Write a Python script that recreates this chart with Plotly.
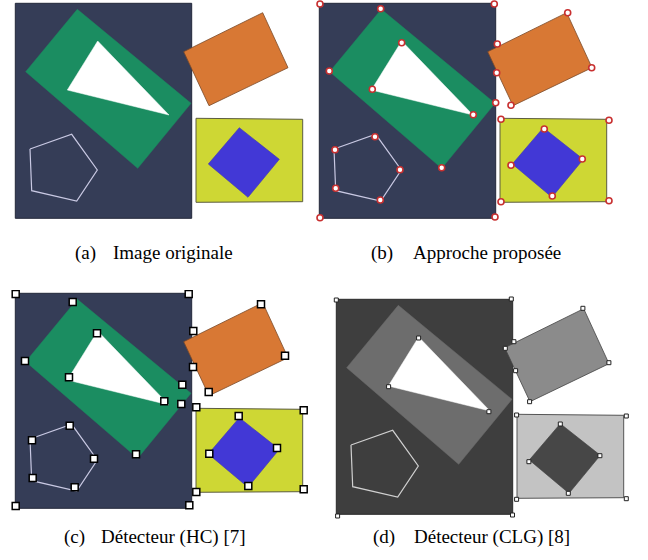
import plotly.graph_objects as go

W, H = 648, 560

# ---- scene geometry (pixel units of the original image frame) ----
NAVY_X = [15.3, 191.7, 191.7, 15.3]
NAVY_Y = [3.3, 3.3, 218.3, 218.3]
GREEN_X = [77.3, 191.0, 137.7, 25.7]
GREEN_Y = [9.3, 103.3, 168.3, 71.7]
TRI_X = [97.7, 169.0, 67.3]
TRI_Y = [41.0, 115.0, 90.0]
PENT_X = [30.0, 71.7, 97.3, 76.7, 31.7]
PENT_Y = [149.0, 134.3, 170.0, 201.0, 190.7]
ORANGE_X = [183.7, 262.7, 288.0, 209.0]
ORANGE_Y = [51.7, 12.7, 67.7, 105.7]
YELLOW_X = [196.0, 302.7, 302.7, 196.0]
YELLOW_Y = [118.3, 119.3, 201.7, 202.3]
BLUE_X = [239.3, 279.3, 248.0, 208.3]
BLUE_Y = [127.7, 159.3, 197.3, 164.0]

# ---- detected corners ----
B_X = [16, 190.3, 16, 191, 76.7, 25.3, 137.7, 191.7, 97.7, 68.3, 169.3,
       71, 31, 96, 76.3, 31.7, 263.7, 287.7, 207, 193.3, 192.7,
       197, 305, 197, 305, 240.3, 278.3, 248.3, 207]
B_Y = [4, 4, 217.7, 217, 8.7, 71, 167.7, 102.7, 42.7, 89.3, 114.7,
       136.7, 149.7, 169.7, 200, 188.3, 12.7, 67.7, 105.3, 44, 72.7,
       119.3, 120.3, 201.7, 200.7, 129, 159, 196, 165.3]
C_X = [15.7, 188.7, 15.7, 189.3, 72.7, 25, 136, 182.3, 181.3, 97, 69, 164.3,
       69.7, 32, 94, 74.7, 32.7, 261, 285, 208.7, 193.3, 193,
       196.3, 303.7, 196.3, 303.7, 238.7, 277, 248.3, 209.3]
C_Y = [4, 4, 216, 215.3, 12, 71, 164.3, 94.7, 114, 43.3, 87.3, 111.3,
       135.7, 150.3, 168.7, 197.3, 188, 14.3, 65.7, 102, 41, 77,
       117.3, 120.3, 202, 199.3, 126, 158, 196, 163.7]
D_X = [15.3, 190.3, 16.6, 191.5, 97.6, 67.6, 167.9,
       192.9, 184.3, 194.6, 208.6, 261.9, 287.9,
       195.6, 305.3, 195.6, 305.3, 239.3, 278.9, 207.9, 247.3]
D_Y = [4, 3, 220, 219, 42, 90.7, 115.7,
       45.7, 52.3, 74.7, 105.7, 12.3, 66.7,
       119, 120, 203.3, 202.7, 128, 159.7, 165.7, 197.3]

CAPTION_LABELS = ["(a)", "(b)", "(c)", "(d)"]
CAPTION_TEXTS = ["Image originale", "Approche proposée",
                 "Détecteur (HC) [7]", "Détecteur (CLG) [8]"]

COLOR = dict(bg="#353d57", bg_line="#23283a", green="#1b8d61", tri="#ffffff",
             pent="#c9c9e3", orange="#d87834", orange_line="#7a4a2a",
             yellow="#ced734", yellow_line="#5c5c40", blue="#4238d6",
             blue_line="#3a32b8")
GRAY = dict(bg="#3e3e3e", bg_line="#2a2a2a", green="#6d6d6d", tri="#ffffff",
            pent="#d0d0d0", orange="#8b8b8b", orange_line="#444444",
            yellow="#c3c3c3", yellow_line="#555555", blue="#474747",
            blue_line="#3a3a3a")

# panel placement: (left px, top px)
PANELS = [(0, 0), (304, 0), (0, 290), (321, 296)]
RX, RY = 320, 225

fig = go.Figure()


def closed(xs, ys):
    return list(xs) + [xs[0]], list(ys) + [ys[0]]


def poly(ax, xs, ys, fill, line_color=None, lw=0, fillit=True):
    cx, cy = closed(xs, ys)
    fig.add_trace(go.Scatter(
        x=cx, y=cy, mode="lines", xaxis="x" + ax, yaxis="y" + ax,
        fill="toself" if fillit else "none",
        fillcolor=fill if fillit else None,
        line=dict(color=line_color if line_color else fill, width=lw),
        hoverinfo="skip", showlegend=False))


for i, (px, py) in enumerate(PANELS):
    ax = "" if i == 0 else str(i + 1)
    pal = GRAY if i == 3 else COLOR
    poly(ax, NAVY_X, NAVY_Y, pal["bg"], pal["bg_line"], 1)
    poly(ax, GREEN_X, GREEN_Y, pal["green"], pal["green"], 0.5)
    poly(ax, TRI_X, TRI_Y, pal["tri"], pal["tri"], 0.5)
    poly(ax, PENT_X, PENT_Y, None, pal["pent"], 1.2, fillit=False)
    poly(ax, ORANGE_X, ORANGE_Y, pal["orange"], pal["orange_line"], 0.8)
    poly(ax, YELLOW_X, YELLOW_Y, pal["yellow"], pal["yellow_line"], 1)
    poly(ax, BLUE_X, BLUE_Y, pal["blue"], pal["blue_line"], 0.6)

    key = "" if i == 0 else str(i + 1)
    fig.layout["xaxis" + key] = dict(
        domain=[px / W, (px + RX) / W], range=[0, RX], visible=False,
        fixedrange=True, anchor="y" + ax)
    fig.layout["yaxis" + key] = dict(
        domain=[1 - (py + RY) / H, 1 - py / H], range=[RY, 0], visible=False,
        fixedrange=True, anchor="x" + ax)

# markers
fig.add_trace(go.Scatter(x=B_X, y=B_Y, xaxis="x2", yaxis="y2", mode="markers",
                         marker=dict(symbol="circle", size=6, color="#ffffff",
                                     line=dict(color="#c83030", width=1.6)),
                         hoverinfo="skip", showlegend=False))
fig.add_trace(go.Scatter(x=C_X, y=C_Y, xaxis="x3", yaxis="y3", mode="markers",
                         marker=dict(symbol="square", size=7, color="#ffffff",
                                     line=dict(color="#000000", width=1.5)),
                         hoverinfo="skip", showlegend=False))
fig.add_trace(go.Scatter(x=D_X, y=D_Y, xaxis="x4", yaxis="y4", mode="markers",
                         marker=dict(symbol="square", size=4, color="#ffffff",
                                     line=dict(color="#222222", width=1)),
                         hoverinfo="skip", showlegend=False))

# captions
LABEL_CX = [85.0, 382.0, 74.0, 383.5]
TEXT_CX = [172.5, 487.5, 173.5, 492.0]
CAP_Y = [252.5, 252.5, 537.0, 537.0]
font = dict(family="Liberation Serif", size=19, color="#000000")
for lab, txt, lx, tx, cy in zip(CAPTION_LABELS, CAPTION_TEXTS, LABEL_CX, TEXT_CX, CAP_Y):
    fig.add_annotation(text=lab, x=lx / W, y=1 - cy / H, xref="paper", yref="paper",
                       xanchor="center", yanchor="middle", showarrow=False, font=font)
    fig.add_annotation(text=txt, x=tx / W, y=1 - cy / H, xref="paper", yref="paper",
                       xanchor="center", yanchor="middle", showarrow=False, font=font)

fig.update_layout(width=W, height=H, margin=dict(l=0, r=0, t=0, b=0),
                  paper_bgcolor="#ffffff", plot_bgcolor="rgba(0,0,0,0)",
                  showlegend=False)
fig.write_html("out.html", config={"displayModeBar": False},
               post_script="document.body.style.margin='0px';"
                           "document.body.style.overflow='hidden';")
